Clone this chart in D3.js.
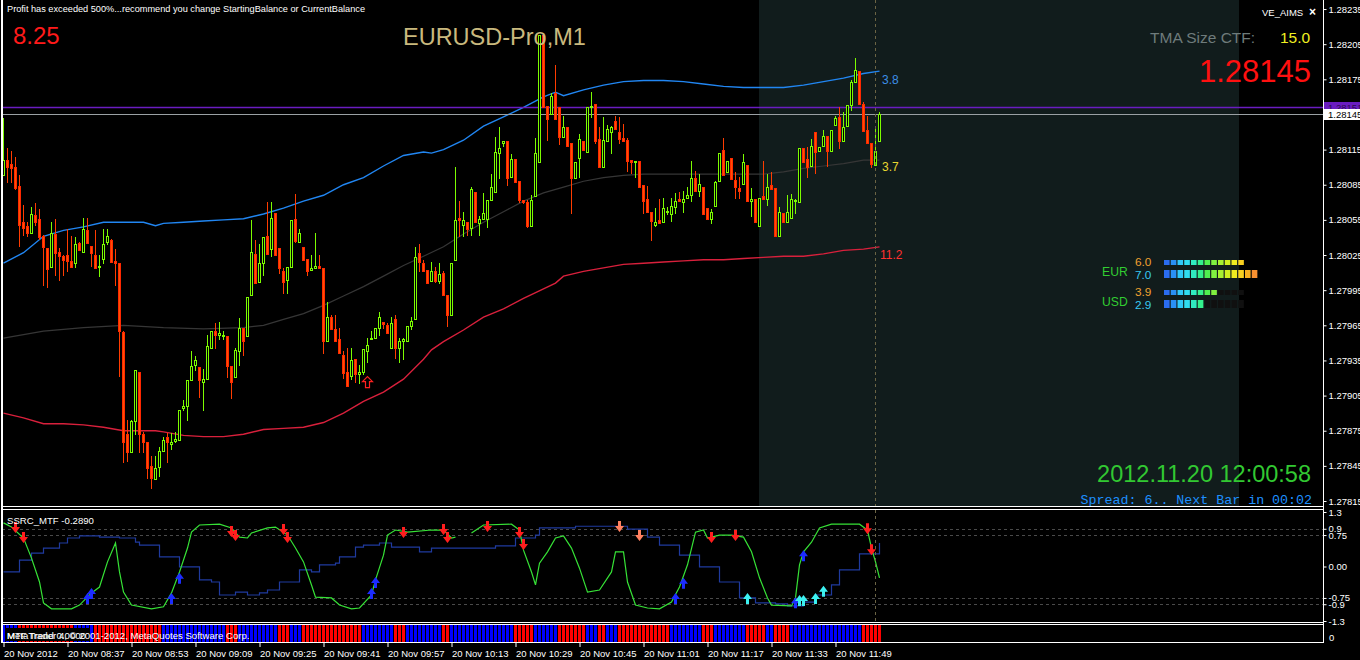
<!DOCTYPE html>
<html>
<head>
<meta charset="utf-8">
<script src="https://cdn.jsdelivr.net/npm/d3@7/dist/d3.min.js"></script>
<style>
	body { margin:0; background:#000; }
	svg { display:block; font-family:"Liberation Sans", Arial, sans-serif; }
</style>
</head>
<body>
<svg id="chart" width="1360" height="660"></svg>
<script>

// ---- data (EURUSD M1, 20 Nov 2012 08:21 - 12:00) ----

// open, high, low, close per minute bar
var candles = [
[1.28093,1.28142,1.28093,1.28106],[1.28106,1.28116,1.28087,1.28100],[1.28103,1.28114,1.28087,1.28099],[1.28100,1.28109,1.28081,1.28082],
[1.28084,1.28093,1.28033,1.28051],[1.28053,1.28068,1.28042,1.28048],[1.28050,1.28053,1.28041,1.28044],[1.28044,1.28066,1.28044,1.28060],
[1.28059,1.28069,1.28051,1.28053],[1.28056,1.28064,1.28039,1.28040],[1.28041,1.28042,1.27999,1.28032],[1.28031,1.28031,1.27998,1.28013],
[1.28015,1.28053,1.28015,1.28044],[1.28043,1.28056,1.28008,1.28027],[1.28028,1.28031,1.28004,1.28024],[1.28024,1.28025,1.28008,1.28021],
[1.28025,1.28047,1.28011,1.28020],[1.28020,1.28041,1.28015,1.28015],[1.28018,1.28040,1.28015,1.28034],[1.28035,1.28036,1.28029,1.28029],
[1.28028,1.28057,1.28028,1.28047],[1.28046,1.28057,1.28035,1.28035],[1.28033,1.28033,1.28016,1.28027],[1.28025,1.28046,1.28014,1.28014],
[1.28015,1.28025,1.28007,1.28016],[1.28022,1.28047,1.28018,1.28034],[1.28036,1.28047,1.28034,1.28041],[1.28038,1.28039,1.28019,1.28019],
[1.28020,1.28030,1.27999,1.28018],[1.28018,1.28018,1.27922,1.27960],[1.27959,1.27960,1.27848,1.27865],[1.27872,1.27884,1.27849,1.27857],
[1.27857,1.27884,1.27857,1.27883],[1.27883,1.27927,1.27872,1.27927],[1.27925,1.27925,1.27857,1.27872],[1.27872,1.27874,1.27857,1.27865],
[1.27865,1.27865,1.27835,1.27843],[1.27845,1.27853,1.27826,1.27835],[1.27834,1.27853,1.27834,1.27843],[1.27844,1.27861,1.27836,1.27858],
[1.27858,1.27870,1.27858,1.27867],[1.27870,1.27873,1.27848,1.27865],[1.27864,1.27873,1.27859,1.27865],[1.27866,1.27874,1.27865,1.27868],
[1.27867,1.27893,1.27867,1.27893],[1.27894,1.27901,1.27893,1.27896],[1.27896,1.27918,1.27884,1.27918],[1.27918,1.27943,1.27918,1.27930],
[1.27931,1.27939,1.27927,1.27935],[1.27929,1.27929,1.27904,1.27918],[1.27917,1.27928,1.27893,1.27919],[1.27919,1.27957,1.27919,1.27947],
[1.27946,1.27960,1.27946,1.27960],[1.27960,1.27967,1.27946,1.27957],[1.27957,1.27968,1.27953,1.27958],[1.27956,1.27960,1.27953,1.27957],
[1.27956,1.27956,1.27921,1.27930],[1.27930,1.27930,1.27903,1.27917],[1.27921,1.27946,1.27921,1.27944],[1.27943,1.27971,1.27931,1.27963],
[1.27963,1.27963,1.27940,1.27952],[1.27956,1.27989,1.27956,1.27989],[1.27991,1.28055,1.27991,1.28028],[1.28026,1.28038,1.28001,1.28001],
[1.28002,1.28034,1.28002,1.28018],[1.28018,1.28040,1.28008,1.28040],[1.28041,1.28070,1.28026,1.28026],[1.28030,1.28070,1.28024,1.28057],
[1.28061,1.28061,1.28025,1.28025],[1.28031,1.28031,1.28010,1.28014],[1.28011,1.28014,1.27993,1.28002],[1.28004,1.28015,1.27993,1.28015],
[1.28015,1.28055,1.28015,1.28055],[1.28056,1.28077,1.28036,1.28037],[1.28036,1.28047,1.28036,1.28044],[1.28032,1.28032,1.28021,1.28021],
[1.28022,1.28022,1.28008,1.28011],[1.28012,1.28025,1.28012,1.28014],[1.28014,1.28044,1.28014,1.28016],[1.28016,1.28025,1.28014,1.28014],
[1.28014,1.28014,1.27941,1.27952],[1.27952,1.27985,1.27952,1.27972],[1.27972,1.27974,1.27962,1.27962],[1.27962,1.27974,1.27952,1.27952],
[1.27953,1.27963,1.27941,1.27941],[1.27940,1.27943,1.27920,1.27924],[1.27925,1.27946,1.27913,1.27913],[1.27922,1.27946,1.27919,1.27935],
[1.27936,1.27936,1.27917,1.27923],[1.27923,1.27931,1.27916,1.27925],[1.27925,1.27945,1.27923,1.27945],[1.27943,1.27954,1.27934,1.27948],
[1.27953,1.27960,1.27953,1.27954],[1.27954,1.27963,1.27954,1.27963],[1.27963,1.27976,1.27957,1.27972],[1.27968,1.27968,1.27963,1.27966],
[1.27965,1.27967,1.27958,1.27958],[1.27946,1.27972,1.27946,1.27967],[1.27970,1.27974,1.27937,1.27946],[1.27946,1.27954,1.27934,1.27952],
[1.27952,1.27954,1.27936,1.27953],[1.27952,1.27964,1.27952,1.27964],[1.27964,1.27972,1.27962,1.27969],[1.27970,1.28032,1.27970,1.28023],
[1.28027,1.28034,1.28011,1.28019],[1.28018,1.28021,1.28011,1.28011],[1.28012,1.28012,1.28001,1.28001],[1.28003,1.28019,1.28003,1.28011],
[1.28011,1.28015,1.28002,1.28003],[1.28003,1.28018,1.28001,1.28009],[1.28010,1.28011,1.27991,1.27991],[1.27991,1.27991,1.27964,1.27974],
[1.27974,1.28018,1.27974,1.28018],[1.28021,1.28100,1.28021,1.28055],[1.28057,1.28071,1.28041,1.28055],[1.28051,1.28062,1.28041,1.28055],
[1.28053,1.28053,1.28042,1.28047],[1.28048,1.28083,1.28042,1.28081],[1.28079,1.28079,1.28053,1.28053],[1.28052,1.28058,1.28042,1.28056],
[1.28056,1.28078,1.28056,1.28061],[1.28056,1.28072,1.28049,1.28072],[1.28072,1.28094,1.28072,1.28083],[1.28079,1.28126,1.28079,1.28113],
[1.28112,1.28134,1.28091,1.28116],[1.28121,1.28122,1.28118,1.28122],[1.28122,1.28122,1.28085,1.28091],[1.28092,1.28111,1.28092,1.28107],
[1.28107,1.28107,1.28087,1.28087],[1.28088,1.28088,1.28070,1.28072],[1.28072,1.28072,1.28069,1.28070],[1.28070,1.28072,1.28049,1.28050],
[1.28050,1.28076,1.28050,1.28072],[1.28075,1.28125,1.28075,1.28112],[1.28104,1.28213,1.28104,1.28213],[1.28213,1.28213,1.28151,1.28151],
[1.28152,1.28152,1.28123,1.28141],[1.28145,1.28163,1.28145,1.28161],[1.28163,1.28187,1.28141,1.28141],[1.28151,1.28151,1.28120,1.28126],
[1.28126,1.28144,1.28126,1.28134],[1.28134,1.28134,1.28118,1.28118],[1.28121,1.28121,1.28061,1.28091],[1.28091,1.28104,1.28091,1.28104],
[1.28108,1.28128,1.28092,1.28124],[1.28122,1.28122,1.28115,1.28115],[1.28113,1.28151,1.28113,1.28151],[1.28151,1.28164,1.28143,1.28152],
[1.28154,1.28154,1.28121,1.28122],[1.28124,1.28134,1.28100,1.28100],[1.28100,1.28143,1.28100,1.28123],[1.28122,1.28136,1.28122,1.28133],
[1.28130,1.28135,1.28112,1.28134],[1.28139,1.28144,1.28133,1.28133],[1.28130,1.28143,1.28121,1.28124],[1.28125,1.28137,1.28122,1.28122],
[1.28123,1.28125,1.28097,1.28105],[1.28106,1.28106,1.28095,1.28104],[1.28104,1.28104,1.28092,1.28105],[1.28105,1.28105,1.28083,1.28083],
[1.28085,1.28085,1.28061,1.28071],[1.28073,1.28084,1.28062,1.28062],[1.28062,1.28062,1.28038,1.28054],[1.28051,1.28065,1.28050,1.28053],
[1.28055,1.28073,1.28052,1.28052],[1.28053,1.28074,1.28053,1.28065],[1.28062,1.28066,1.28060,1.28063],[1.28060,1.28074,1.28054,1.28067],
[1.28066,1.28078,1.28061,1.28071],[1.28073,1.28079,1.28071,1.28071],[1.28070,1.28080,1.28062,1.28073],[1.28074,1.28083,1.28074,1.28076],
[1.28076,1.28105,1.28071,1.28091],[1.28091,1.28097,1.28080,1.28080],[1.28080,1.28094,1.28075,1.28086],[1.28083,1.28083,1.28060,1.28060],
[1.28065,1.28065,1.28056,1.28056],[1.28056,1.28064,1.28052,1.28062],[1.28067,1.28088,1.28067,1.28087],[1.28088,1.28112,1.28088,1.28112],
[1.28115,1.28125,1.28093,1.28093],[1.28096,1.28105,1.28096,1.28105],[1.28108,1.28108,1.28090,1.28090],[1.28089,1.28096,1.28074,1.28083],
[1.28082,1.28092,1.28074,1.28080],[1.28086,1.28111,1.28086,1.28104],[1.28102,1.28102,1.28071,1.28071],[1.28071,1.28082,1.28058,1.28073],
[1.28073,1.28073,1.28053,1.28053],[1.28050,1.28074,1.28050,1.28074],[1.28075,1.28105,1.28073,1.28073],[1.28073,1.28094,1.28068,1.28083],
[1.28085,1.28096,1.28081,1.28081],[1.28082,1.28082,1.28041,1.28041],[1.28041,1.28066,1.28041,1.28062],[1.28061,1.28061,1.28053,1.28053],
[1.28053,1.28076,1.28053,1.28062],[1.28057,1.28077,1.28057,1.28073],[1.28071,1.28073,1.28061,1.28072],[1.28070,1.28116,1.28070,1.28116],
[1.28116,1.28116,1.28104,1.28104],[1.28107,1.28117,1.28092,1.28100],[1.28101,1.28124,1.28101,1.28118],[1.28130,1.28130,1.28095,1.28113],
[1.28114,1.28117,1.28114,1.28117],[1.28118,1.28132,1.28118,1.28127],[1.28127,1.28127,1.28101,1.28114],[1.28114,1.28132,1.28114,1.28132],
[1.28136,1.28144,1.28136,1.28142],[1.28143,1.28151,1.28116,1.28122],[1.28122,1.28147,1.28122,1.28134],[1.28135,1.28153,1.28135,1.28153],
[1.28153,1.28174,1.28149,1.28173],[1.28173,1.28193,1.28173,1.28183],[1.28182,1.28182,1.28154,1.28154],[1.28154,1.28156,1.28131,1.28131],
[1.28132,1.28144,1.28121,1.28121],[1.28121,1.28121,1.28100,1.28103],[1.28102,1.28133,1.28102,1.28114],[1.28122,1.28147,1.28122,1.28145]
];

// TMA channel, sampled at these bar indexes
var bandIdx = [0,5,10,15,20,25,30,35,38,40,45,50,55,60,65,70,75,80,85,90,95,100,105,107,110,115,120,125,130,135,138,140,145,150,155,160,165,170,175,180,185,190,195,200,205,210,215,219];
var bandUpper = [1.28018,1.28027,1.28041,1.28046,1.28049,1.28053,1.28053,1.28053,1.28050,1.28052,1.28053,1.28054,1.28055,1.28056,1.28060,1.28065,
	1.28071,1.28076,1.28085,1.28091,1.28101,1.28110,1.28113,1.28112,1.28115,1.28123,1.28135,1.28143,1.28151,1.28160,1.28164,1.28161,
	1.28166,1.28170,1.28173,1.28174,1.28174,1.28173,1.28171,1.28169,1.28168,1.28168,1.28168,1.28170,1.28173,1.28176,1.28180,1.28182];
var bandLower = [1.27890,1.27886,1.27881,1.27881,1.27880,1.27878,1.27875,1.27875,1.27875,1.27874,1.27871,1.27870,1.27870,1.27872,1.27876,1.27877,
	1.27878,1.27882,1.27890,1.27900,1.27908,1.27919,1.27936,1.27944,1.27951,1.27961,1.27972,1.27979,1.27988,1.27996,1.28001,1.28007,
	1.28011,1.28014,1.28017,1.28018,1.28019,1.28020,1.28021,1.28021,1.28022,1.28023,1.28024,1.28024,1.28026,1.28029,1.28030,1.28032];
var midIdx = [0,10,20,30,40,50,60,65,70,75,80,85,90,95,100,105,110,115,120,125,130,135,140,145,150,155,160,170,180,190,195,200,205,210,215,219];
var bandMid = [1.27954,1.27960,1.27963,1.27965,1.27963,1.27962,1.27963,1.27965,1.27970,1.27975,1.27982,1.27990,1.27998,1.28007,1.28016,1.28024,
	1.28032,1.28043,1.28053,1.28062,1.28071,1.28078,1.28083,1.28088,1.28091,1.28093,1.28094,1.28094,1.28094,1.28094,1.28096,1.28099,
	1.28101,1.28103,1.28106,1.28106];

var priceTicks = [1.28235,1.28205,1.28175,1.28145,1.28115,1.28085,1.28055,1.28025,1.27995,1.27965,1.27935,1.27905,1.27875,1.27845,1.27815];
var askPrice = 1.28151;
var bidPrice = 1.28145;
var chartSignal = [91, 1.27916];

var timeTicks = [0,16,32,48,64,80,96,112,128,144,160,176,192,208];
var timeLabels = ['20 Nov 2012','20 Nov 08:37','20 Nov 08:53','20 Nov 09:09','20 Nov 09:25','20 Nov 09:41','20 Nov 09:57',
	'20 Nov 10:13','20 Nov 10:29','20 Nov 10:45','20 Nov 11:01','20 Nov 11:17','20 Nov 11:33','20 Nov 11:49'];

// SSRC_MTF sub window
var ssrcIdx = [0,2,5,7,9,10,12,17,19,22,24,26,28,29,30,32,37,40,42,44,46,47,49,54,57,59,61,62,66,68,71,73,75,77,78,82,84,87,89,92,93,95,96,98,
	101,107,110,112,113,115,117,120,127,129,130,132,133,134,136,138,140,142,144,146,149,152,153,155,156,158,161,164,167,169,171,173,175,176,
	179,182,185,187,189,191,192,197,198,199,200,202,204,207,214,216,217,218,219];
var ssrcVal = [1.04,0.94,0.68,0.20,-0.37,-0.87,-1.01,-1.01,-0.92,-0.63,-0.49,0.11,0.56,-0.13,-0.61,-0.92,-1.01,-0.96,-0.63,-0.13,0.44,0.82,0.99,1.01,
	0.92,0.70,0.68,0.80,0.92,0.94,0.75,0.44,0.11,-0.44,-0.73,-0.75,-0.92,-1.01,-0.99,-0.68,-0.32,0.27,0.75,0.87,
	0.82,0.87,0.87,0.68,0.70,null,0.80,0.99,1.01,0.87,0.39,-0.13,-0.44,0.08,0.35,0.68,0.73,0.44,-0.04,-0.61,-0.56,-0.13,0.35,0.35,-0.37,
	-0.92,-0.99,-1.01,-0.85,-0.49,0.04,0.82,0.87,0.68,0.75,0.75,0.70,0.35,-0.27,-0.75,-0.92,-0.94,-0.75,0.04,0.35,0.58,0.92,1.01,1.01,
	0.87,0.44,0.11,-0.27];
var mtfIdx = [0,4,7,10,14,16,19,24,29,33,34,39,44,49,52,54,58,61,64,66,69,74,77,79,83,84,88,90,94,97,104,107,123,128,133,134,143,156,161,
	164,169,174,179,184,188,193,196,200,203,207,209,214,219];
var mtfVal = [-0.13,0.15,0.32,0.44,0.56,0.68,0.73,0.70,0.68,0.58,0.51,0.23,-0.01,-0.32,-0.37,-0.68,-0.61,-0.68,-0.63,-0.56,-0.37,-0.08,
	-0.13,0.04,0.08,0.23,0.46,0.51,0.56,0.46,0.35,0.44,0.49,0.68,0.75,0.92,0.96,0.89,0.70,0.51,0.27,-0.01,-0.37,-0.75,-0.87,-0.89,-0.94,
	-0.85,-0.68,-0.44,-0.08,0.30,0.56];
var oscTicks = [1.3,0.9,0.75,0,-0.75,-0.9,-1.3];
var oscTickLabels = ['1.3','0.9','0.75','0.00','-0.75','-0.9','-1.3'];
var oscLevels = [0.9,0.75,-0.75,-0.9];

var sellArrows = [[3,0.92],[5,0.68],[57,0.82],[58,0.73],[70,0.87],[71,0.68],[100,0.80],[110,0.87],[111,0.68],[121,0.94],[129,0.80],
	[130,0.51],[177,0.68],[183,0.73],[216,0.89],[217,0.39]];
var weakSellArrows = [[154,0.94],[159,0.73]];
var buyArrows = [[21,-0.75],[22,-0.63],[42,-0.75],[44,-0.27],[92,-0.63],[93,-0.37],[168,-0.75],[170,-0.39],[198,-0.85],[200,0.27]];
var weakBuyArrows = [[186,-0.75],[199,-0.80],[200,-0.80],[203,-0.75],[205,-0.58]];

// trend histogram, one letter per bar: B = blue, R = red
var trendBars = 'BBBBRRRRRRRRRRRRRRBBBBBRRRRRRRRRRRRRRRRRBBBBBBBBBBBBBBBBRRRBBBBBBBBBBRRRBBBRRRRRRRRRRRRRRRBBBBBBBBRRRBBBBBBBBBRR' +
	'BBBBBBBBBBBBBBBBRRRRRBBBBBBRRRRRRRBBBRRBBBRRRRRRRRRRRRRBBBBBBBBRRRBBBBBBBBRRRRRBBRRRRBBBBBBBBBBBBBBBBBBRRRRR';

// currency strength meter
var currencies = ['EUR','USD'];
var strengthTop = [6.0, 3.9];
var strengthBottom = [7.0, 2.9];


// ---- drawing ----
var svg = d3.select('#chart');

var panelLeft = 2, panelRight = 1323;

var x = d3.scaleLinear().domain([0, candles.length-1]).range([3, 879]);
var y = d3.scaleLinear().domain([1.27815, 1.28235]).range([501, 9.04]);
var yOsc = d3.scaleLinear().domain([-1.3, 1.3]).range([621, 512]);

svg.append('rect').attr('width',1360).attr('height',660).attr('fill','#000');

var defs = svg.append('defs');
defs.append('clipPath').attr('id','mainClip').append('rect')
	.attr('x',panelLeft).attr('y',0).attr('width',panelRight-panelLeft).attr('height',506);
defs.append('clipPath').attr('id','oscClip').append('rect')
	.attr('x',panelLeft).attr('y',510).attr('width',panelRight-panelLeft).attr('height',112);

var main = svg.append('g').attr('clip-path','url(#mainClip)');

// shaded zone of the indicator
main.append('rect')
	.attr('x',759).attr('y',0).attr('width',480).attr('height',507)
	.attr('fill','#111c1c');

// TMA bands
var bandLine = function (idx) {
	return d3.line().x((d,i) => x(idx[i]) + 0.5).y(d => y(d));
};
main.append('path').datum(bandMid).attr('d', bandLine(midIdx))
	.attr('fill','none').attr('stroke','#363636').attr('stroke-width',1.2);
main.append('path').datum(bandUpper).attr('d', bandLine(bandIdx))
	.attr('fill','none').attr('stroke','#2186f2').attr('stroke-width',1.4);
main.append('path').datum(bandLower).attr('d', bandLine(bandIdx))
	.attr('fill','none').attr('stroke','#d9203c').attr('stroke-width',1.4);

// ask / bid lines
main.append('line').attr('x1',panelLeft).attr('x2',panelRight)
	.attr('y1',Math.round(y(askPrice))+0.5).attr('y2',Math.round(y(askPrice))+0.5)
	.attr('stroke','#6a1cc0').attr('stroke-width',1.3);
main.append('line').attr('x1',panelLeft).attr('x2',panelRight)
	.attr('y1',Math.round(y(bidPrice))+0.5).attr('y2',Math.round(y(bidPrice))+0.5)
	.attr('stroke','#9aa0a4');

// candles
var isUp = d => d[3] >= d[0];
var bars = main.selectAll('g.bar')
	.data(candles)
	.enter()
	.append('g')
	.attr('class','bar')
	.attr('transform',(d,i) => 'translate(' + x(i) + ',0)');

bars.append('line')
	.attr('x1',0.5).attr('x2',0.5)
	.attr('y1',d => Math.round(y(d[1])))
	.attr('y2',d => Math.round(y(d[2])) + 1)
	.attr('stroke',d => isUp(d) ? '#7cfc00' : '#ff3c00');

bars.append('rect')
	.attr('x',-0.5)
	.attr('width',2)
	.attr('y',d => Math.round(y(Math.max(d[0],d[3]))) + 0.5)
	.attr('height',d => Math.max(1, Math.round(y(Math.min(d[0],d[3]))) - Math.round(y(Math.max(d[0],d[3])))))
	.attr('fill',d => isUp(d) ? '#000' : '#ff5200')
	.attr('stroke',d => isUp(d) ? '#7cfc00' : '#ff2800');

// hollow buy arrow under the lows
var sx = x(chartSignal[0]) + 0.5, sy = y(chartSignal[1]);
main.append('path')
	.attr('d','M'+sx+','+(sy-6)+' l5,5 h-3 v6 h-4 v-6 h-3 z')
	.attr('fill','none').attr('stroke','#ff2020').attr('stroke-width',1.2);

// ---- texts on the main window ----
var label = function (txt, px, py, size, color, anchor, family) {
	return svg.append('text').text(txt)
		.attr('x',px).attr('y',py)
		.attr('font-size',size)
		.attr('fill',color)
		.attr('text-anchor',anchor || 'start')
		.attr('font-family',family || null);
};

label('Profit has exceeded 500%...recommend you change StartingBalance or CurrentBalance', 7, 12, 9.2, '#fff');
label('8.25', 13, 44, 24, '#ff1a1a');
label('EURUSD-Pro,M1', 403, 45, 23.5, '#c9b97e');
label('TMA Size CTF:', 1150, 43, 15.5, '#6e7b7b');
label('15.0', 1280, 43, 15.5, '#f0f020');
label('1.28145', 1311, 82, 31, '#ff1010', 'end');
label('VE_AIMS', 1262, 16, 9.5, '#fff');
label('\u00d7', 1309, 16, 12, '#fff').attr('font-weight','bold');

label('3.8', 882, 84, 12, '#3c8ee6');
label('3.7', 882, 171, 12, '#e8d830');
label('11.2', 880, 259, 12, '#ff3030');

label('2012.11.20 12:00:58', 1311, 482, 23.5, '#32c832', 'end');
label('Spread: 6.. Next Bar in 00:02', 1312, 504, 13.3, '#1e90ff', 'end', '"Liberation Mono", monospace');

// currency strength meter
var meterColors = ['#2a6cf0','#2a90f5','#30c8f8','#30dcf0','#30ecc0','#34f08c','#50f050','#80f040','#a8f030',
	'#d0f020','#f0ec20','#f8d020','#f8b020','#f89030'];
var meterLeft = 1164, meterPitch = 6.75;

currencies.forEach(function (cur, k) {
	var rowY = 260 + k * 30;
	label(cur, 1102, rowY + 16, 12.2, '#32cd32');
	label(strengthTop[k].toFixed(1), 1135, rowY + 6, 11.8, '#f0a030');
	label(strengthBottom[k].toFixed(1), 1135, rowY + 18.5, 11.8, '#38c8f0');

	[[strengthTop[k], rowY, 5], [strengthBottom[k], rowY + 10, 8]].forEach(function (row) {
		var lit = Math.round(row[0] * 2);
		var slots = d3.range(Math.max(12, lit));
		svg.selectAll(null)
			.data(slots)
			.enter()
			.append('rect')
			.attr('x',s => meterLeft + s * meterPitch)
			.attr('y',row[1])
			.attr('width',5.6)
			.attr('height',row[2])
			.attr('fill',s => s < lit ? meterColors[s] : '#101010');
	});
});

// ---- SSRC_MTF window ----
var osc = svg.append('g').attr('clip-path','url(#oscClip)');

osc.selectAll('line.level')
	.data(oscLevels)
	.enter()
	.append('line')
	.attr('x1',panelLeft).attr('x2',panelRight)
	.attr('y1',d => Math.round(yOsc(d)) + 0.5)
	.attr('y2',d => Math.round(yOsc(d)) + 0.5)
	.attr('stroke','#4a4a4a')
	.attr('stroke-dasharray','3,3');

osc.append('path')
	.datum(mtfVal)
	.attr('d', d3.line().curve(d3.curveStepAfter).x((d,i) => x(mtfIdx[i]) + 0.5).y(d => yOsc(d)))
	.attr('fill','none').attr('stroke','#1f3a9e').attr('stroke-width',1.2);

osc.append('path')
	.datum(ssrcVal)
	.attr('d', d3.line().defined(d => d !== null).x((d,i) => x(ssrcIdx[i]) + 0.5).y(d => yOsc(d)))
	.attr('fill','none').attr('stroke','#36e236').attr('stroke-width',1.2);

var downArrow = 'M-1.5,-6 h3 v5 h3 l-4.5,6 l-4.5,-6 h3 z';
var upArrow = 'M-1.5,6 h3 v-5 h3 l-4.5,-6 l-4.5,6 h3 z';
var drawArrows = function (list, shape, color) {
	osc.selectAll(null)
		.data(list)
		.enter()
		.append('path')
		.attr('d',shape)
		.attr('transform',d => 'translate(' + (x(d[0]) + 0.5) + ',' + yOsc(d[1]) + ')')
		.attr('fill',color);
};
drawArrows(sellArrows, downArrow, '#ff1e1e');
drawArrows(weakSellArrows, downArrow, '#ff8060');
drawArrows(buyArrows, upArrow, '#1c2cff');
drawArrows(weakBuyArrows, upArrow, '#3cf0f0');

label('SSRC_MTF -0.2890', 7, 524, 9.6, '#fff');

// ---- trend histogram window ----
svg.selectAll('rect.trend')
	.data(trendBars.split(''))
	.enter()
	.append('rect')
	.attr('class','trend')
	.attr('x',(d,i) => x(i) - 1)
	.attr('y',625)
	.attr('width',3)
	.attr('height',17)
	.attr('fill',d => d === 'R' ? '#ff0000' : '#0000ff');

svg.append('rect').attr('x',5).attr('y',628).attr('width',84).attr('height',13).attr('fill','#000');
label('MTF Trend 0.0000', 7, 639, 9.6, '#fff');
label('MetaTrader 4, \u00a9 2001-2012, MetaQuotes Software Corp.', 7, 639, 9.6, '#fff');

// ---- vertical "now" line ----
svg.append('line')
	.attr('x1',x(218) + 0.5).attr('x2',x(218) + 0.5)
	.attr('y1',0).attr('y2',622)
	.attr('stroke','#6b6444')
	.attr('stroke-dasharray','3,3');

// ---- frames ----
var frame = svg.append('g').attr('stroke','#fff').attr('stroke-width',1);
[506.5, 509.5, 622.5, 624.5, 642.5].forEach(function (ly) {
	frame.append('line').attr('x1',panelLeft).attr('x2',panelRight + 0.5).attr('y1',ly).attr('y2',ly);
});
frame.append('line').attr('x1',panelRight + 0.5).attr('x2',panelRight + 0.5).attr('y1',0).attr('y2',643);
frame.append('line').attr('x1',2).attr('x2',2).attr('y1',0).attr('y2',643).attr('stroke-width',2);

// ---- axes ----
var styleAxis = function (g) {
	g.attr('font-family',null).attr('font-size',9.5);
	g.selectAll('path.domain').remove();
	g.selectAll('line').attr('stroke','#fff');
	g.selectAll('text').attr('fill','#fff');
};

var priceAxis = d3.axisRight(y).tickValues(priceTicks).tickFormat(d3.format('.5f')).tickSize(3).tickPadding(2);
svg.append('g').attr('transform','translate(' + (panelRight + 0.5) + ',0)').call(priceAxis).call(styleAxis);

var oscAxis = d3.axisRight(yOsc).tickValues(oscTicks).tickFormat((d,i) => oscTickLabels[i]).tickSize(3).tickPadding(2);
svg.append('g').attr('transform','translate(' + (panelRight + 0.5) + ',0)').call(oscAxis).call(styleAxis);

label('0', 1329, 641, 9.5, '#fff');

var timeAxis = d3.axisBottom(x).tickValues(timeTicks).tickFormat((d,i) => timeLabels[i]).tickSize(4).tickPadding(3);
svg.append('g').attr('transform','translate(0.5,643)').call(timeAxis).call(styleAxis)
	.selectAll('text').attr('text-anchor','start').attr('dx',0);

// price tags on the axis
var tag = function (price, fill, color) {
	var ty = Math.round(y(price));
	svg.append('rect').attr('x',panelRight + 1).attr('y',ty - 5).attr('width',40).attr('height',11).attr('fill',fill);
	label(price.toFixed(5), panelRight + 5, ty + 4, 9.5, color);
};
tag(askPrice, '#6a1cc0', '#2a0a50');
tag(bidPrice, '#fff', '#000');

</script>
</body>
</html>
